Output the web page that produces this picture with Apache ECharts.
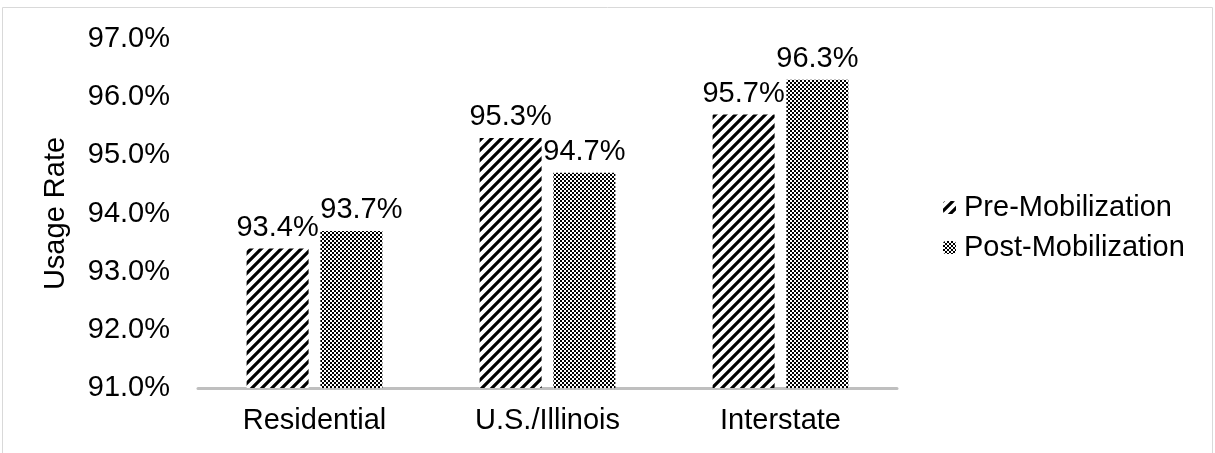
<!DOCTYPE html>
<html>
<head>
<meta charset="utf-8">
<script src="https://cdn.jsdelivr.net/npm/echarts@6/dist/echarts.min.js"></script>
<style>
  html, body { margin: 0; padding: 0; background: #fff; }
  #chart { width: 1215px; height: 453px; }
</style>
</head>
<body>
<div id="chart"></div>
<script>
const categories = ['Residential', 'U.S./Illinois', 'Interstate']
const seriesNames = ['Pre-Mobilization', 'Post-Mobilization']
const preValues = [93.4, 95.3, 95.7]
const postValues = [93.7, 94.7, 96.3]
const yTicks = [91, 92, 93, 94, 95, 96, 97]

// hatch: black diagonal stripes "/"
function stripeTile () {
  const s = 10
  const c = document.createElement('canvas')
  c.width = s
  c.height = s
  const ctx = c.getContext('2d')
  ctx.fillStyle = '#fff'
  ctx.fillRect(0, 0, s, s)
  ctx.strokeStyle = '#000'
  ctx.lineWidth = 3.2
  ctx.beginPath()
  ctx.moveTo(-s / 2, s / 2); ctx.lineTo(s / 2, -s / 2)
  ctx.moveTo(0, s); ctx.lineTo(s, 0)
  ctx.moveTo(s / 2, s * 1.5); ctx.lineTo(s * 1.5, s / 2)
  ctx.stroke()
  return c
}

// fine checkerboard
function checkTile () {
  const c = document.createElement('canvas')
  c.width = 4
  c.height = 4
  const ctx = c.getContext('2d')
  ctx.fillStyle = '#fff'
  ctx.fillRect(0, 0, 4, 4)
  ctx.fillStyle = '#000'
  ctx.fillRect(0, 0, 2, 2)
  ctx.fillRect(2, 2, 2, 2)
  return c
}

const stripes = { image: stripeTile(), repeat: 'repeat' }
const checks = { image: checkTile(), repeat: 'repeat' }

const font = 'Liberation Sans, Arial, sans-serif'
const fs = 29
const pct = v => v.toFixed(1) + '%'

const barLabel = {
  show: true,
  position: 'top',
  distance: 6,
  fontSize: fs,
  color: '#000',
  fontFamily: font,
  formatter: p => pct(p.value)
}

const chart = echarts.init(document.getElementById('chart'))

chart.setOption({
  animation: false,
  textStyle: { fontFamily: font },
  graphic: [
    {
      type: 'rect',
      shape: { x: 2.5, y: 7.5, width: 1210, height: 460 },
      style: { fill: 'none', stroke: '#d9d9d9', lineWidth: 1 },
      silent: true
    }
  ],
  grid: {
    left: 198,
    right: 318,
    top: 39,
    bottom: 65
  },
  legend: {
    orient: 'vertical',
    left: 938,
    top: 188,
    itemWidth: 13,
    itemHeight: 13,
    itemGap: 11,
    data: seriesNames,
    textStyle: { fontSize: fs, color: '#000', fontFamily: font, padding: [0, 0, 0, 3] }
  },
  xAxis: {
    type: 'category',
    data: categories,
    axisLine: { lineStyle: { color: '#bfbfbf', width: 3 } },
    axisTick: { show: false },
    axisLabel: { fontSize: fs, color: '#000', margin: 18, fontFamily: font }
  },
  yAxis: {
    type: 'value',
    min: yTicks[0],
    max: yTicks[yTicks.length - 1],
    interval: 1,
    name: 'Usage Rate',
    nameLocation: 'middle',
    nameGap: 128,
    nameTextStyle: { fontSize: fs, color: '#000', fontFamily: font },
    axisLine: { show: false },
    axisTick: { show: false },
    splitLine: { show: false },
    axisLabel: { fontSize: fs, color: '#000', margin: 28, fontFamily: font, formatter: pct }
  },
  series: [
    {
      name: seriesNames[0],
      type: 'bar',
      data: preValues,
      barWidth: 62,
      barGap: '19%',
      itemStyle: { color: stripes },
      label: barLabel
    },
    {
      name: seriesNames[1],
      type: 'bar',
      // first label nudged right so it clears its neighbour, as in the original
      data: postValues.map((v, i) => i === 0 ? { value: v, label: { offset: [10, 0] } } : v),
      barWidth: 62,
      itemStyle: { color: checks },
      label: barLabel
    }
  ]
})
</script>
</body>
</html>
